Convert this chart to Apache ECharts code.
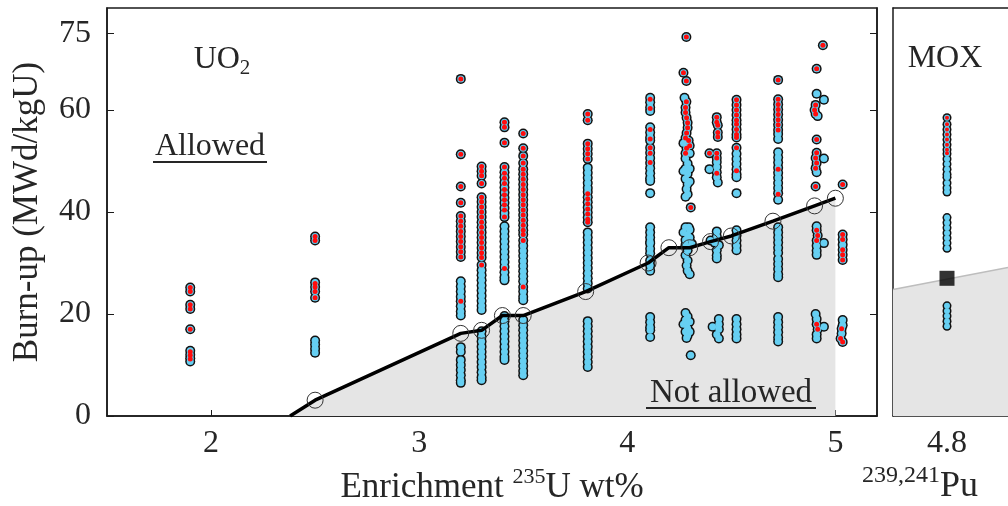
<!DOCTYPE html>
<html><head><meta charset="utf-8">
<script src="https://cdn.jsdelivr.net/npm/echarts@6/dist/echarts.min.js"></script>
<style>html,body{margin:0;padding:0;background:#fff}#c{width:1008px;height:506px}</style>
</head><body><div id="c"></div>
<script>
// ---------- data ----------
const xTicks = [2, 3, 4, 5];
const yTicks = [0, 20, 40, 60, 75];
const moxTick = [4.8];

// single-enrichment columns: burn-up values (all points) and red-marked subset
const bu19 = [25.2, 24.4, 21.8, 21.0, 17.0, 12.8, 12.0, 11.3, 10.7];
const red19 = [25.2, 24.4, 21.8, 21.0, 17.0, 12.6, 11.9, 11.2];
const bu25 = [35.2, 34.4, 26.2, 25.3, 24.4, 23.2, 14.8, 14.0, 13.2, 12.4];
const red25 = [35.2, 34.4, 26.0, 25.3, 24.4, 23.2];
const bu32 = [66.1, 51.3, 45.0, 41.8, 39.2, 38.2, 37.2, 36.2, 35.2, 34.2, 33.2, 32.2, 31.2, 26.4, 25.4, 24.4, 23.4, 22.5, 21.5, 20.5, 19.7, 13.5, 12.6, 11.0, 10.0, 9.0, 8.0, 7.0, 6.5];
const red32 = [66.1, 51.3, 45.0, 41.8, 39.2, 38.2, 37.2, 36.2, 35.2, 34.2, 33.2, 32.2, 31.2, 22.5];
const bu33 = [48.9, 48.0, 47.1, 45.6, 42.9, 42.0, 41.0, 40.0, 39.0, 38.0, 37.0, 36.0, 35.0, 34.0, 33.0, 32.0, 31.1, 29.6, 28.6, 27.6, 26.6, 25.6, 24.6, 23.6, 22.6, 21.6, 20.8, 16.6, 15.6, 14.6, 13.6, 12.6, 11.6, 10.6, 9.6, 8.6, 7.6, 7.0];
const red33 = [48.9, 48.0, 47.1, 45.6, 42.9, 42.0, 41.0, 40.0, 39.0, 38.0, 37.0, 36.0, 35.0, 34.0, 33.0, 32.0, 31.1, 29.6];
const bu34 = [57.6, 56.6, 53.6, 48.8, 47.8, 46.8, 45.8, 44.8, 43.8, 42.8, 41.8, 40.8, 39.8, 39.0, 37.2, 36.2, 35.2, 34.2, 33.2, 32.2, 31.2, 30.2, 29.2, 28.2, 27.2, 26.6, 19.6, 18.6, 17.6, 16.6, 15.6, 14.6, 13.6, 12.6, 11.6, 11.0];
const red34 = [57.6, 56.6, 53.6, 48.8, 47.6, 46.6, 45.6, 44.4, 43.4, 42.4, 41.4, 40.4, 39.0, 28.9];
const bu35 = [55.4, 52.5, 51.0, 49.6, 48.4, 47.4, 46.4, 45.4, 44.4, 43.4, 42.4, 41.4, 40.4, 39.4, 38.4, 37.4, 36.4, 35.6, 34.4, 33.4, 32.4, 31.4, 30.4, 29.4, 28.4, 27.4, 26.4, 25.3, 24.4, 23.4, 22.7, 18.8, 17.8, 16.8, 15.8, 14.8, 13.8, 12.8, 11.8, 10.8, 9.8, 8.8, 8.0];
const red35 = [55.4, 52.5, 51.0, 49.6, 48.4, 47.4, 46.4, 45.4, 44.4, 43.4, 42.4, 41.4, 40.4, 39.4, 38.4, 37.4, 36.4, 35.6, 34.4, 25.3];
const bu38 = [59.2, 58.0, 53.4, 52.4, 51.4, 50.4, 48.7, 47.7, 46.7, 45.7, 44.7, 43.9, 42.9, 41.9, 40.9, 39.9, 38.9, 38.0, 36.0, 35.0, 34.0, 33.0, 32.0, 31.0, 30.0, 29.0, 28.0, 27.0, 26.0, 25.0, 18.6, 17.6, 16.6, 15.6, 14.6, 13.6, 12.6, 11.6, 10.6, 9.6];
const red38 = [59.2, 58.0, 53.4, 52.4, 51.4, 50.4, 43.6, 42.6, 41.6, 40.6, 39.6, 38.6, 38.0];
const bu41 = [62.4, 61.5, 60.5, 59.8, 56.6, 55.6, 54.6, 54.0, 52.6, 51.6, 50.6, 49.6, 48.6, 47.6, 46.6, 46.1, 43.7, 37.0, 36.0, 35.0, 34.1, 33.8, 32.8, 31.9, 30.5, 29.5, 28.5, 19.4, 18.4, 17.4, 16.8, 15.5];
const red41 = [62.1, 60.3, 56.2, 54.3, 52.6, 51.5, 49.7];
const bu45 = [62.0, 61.0, 60.0, 59.0, 58.0, 57.2, 56.2, 55.2, 54.6, 52.6, 51.4, 50.4, 49.4, 48.4, 47.4, 46.8, 43.7, 36.4, 35.4, 34.4, 33.4, 32.5, 19.0, 18.0, 17.0, 16.0, 15.2];
const red45 = [62.0, 61.0, 60.0, 59.0, 58.0, 57.2, 56.2, 55.2, 54.6, 52.6, 48.1];
const bu47 = [65.9, 62.1, 61.1, 60.1, 59.1, 58.1, 57.1, 56.1, 55.3, 54.3, 51.7, 50.7, 49.7, 48.7, 47.7, 46.7, 45.7, 44.7, 43.7, 42.4, 37.0, 36.0, 35.0, 34.0, 33.0, 32.0, 30.8, 29.8, 28.8, 27.8, 27.2, 19.4, 18.4, 17.4, 16.4, 15.4, 14.6];
const red47 = [65.9, 62.1, 61.1, 60.1, 59.1, 58.1, 57.1, 56.1, 48.4, 43.5];

// scattered columns: [enrichment, burn-up]
const pts43 = [[4.284,74.3],[4.27,67.3],[4.284,65.7],[4.275,62.4],[4.284,61.6],[4.28,60.5],[4.28,59.5],[4.285,58.5],[4.29,57.5],[4.29,56.5],[4.285,55.5],[4.28,54.5],[4.295,54.0],[4.27,53.5],[4.3,53.0],[4.285,52.5],[4.28,51.5],[4.3,51.5],
  [4.28,50.5],[4.29,49.5],[4.28,48.5],[4.27,48.0],[4.3,48.5],[4.29,47.5],[4.28,46.5],[4.3,46.0],[4.29,45.5],[4.285,44.5],[4.29,43.5],[4.28,43.0],[4.305,40.9],
  [4.28,37.0],[4.295,37.0],[4.3,36.5],[4.27,36.0],[4.29,35.5],[4.3,35.0],[4.28,34.5],[4.31,33.8],[4.28,33.5],[4.29,32.5],[4.28,31.5],[4.29,30.5],[4.285,29.5],[4.29,28.5],[4.3,27.8],
  [4.28,20.2],[4.29,19.5],[4.28,18.8],[4.3,18.5],[4.27,18.0],[4.285,18.0],[4.29,17.2],[4.28,16.5],[4.3,16.5],[4.29,15.8],[4.285,15.3],[4.305,11.9]];
const red43 = [[4.284,74.3],[4.27,67.3],[4.284,65.7],[4.284,61.6],[4.28,60.5],[4.28,59.5],[4.285,58.5],[4.29,57.5],[4.29,56.5],[4.285,55.5],[4.28,54.5],[4.295,54.0],[4.3,53.0],[4.285,52.5],[4.28,51.5],[4.305,40.9]];
const pts44 = [[4.43,58.6],[4.43,57.6],[4.435,57.0],[4.435,55.6],[4.435,54.7],[4.395,51.5],[4.43,51.5],[4.43,50.6],[4.43,49.8],[4.43,48.8],[4.43,47.8],[4.43,46.8],[4.395,48.4],[4.435,45.8],
  [4.43,36.2],[4.43,35.2],[4.40,34.4],[4.42,34.0],[4.44,33.5],[4.43,32.5],[4.43,31.5],[4.43,30.9],
  [4.44,19.0],[4.44,18.0],[4.41,17.5],[4.44,17.0],[4.43,16.0],[4.44,15.2]];
const red44 = [[4.43,58.6],[4.43,57.6],[4.435,57.0],[4.435,55.6],[4.435,54.7],[4.395,51.5],[4.43,51.5],[4.43,50.6],[4.43,47.6]];
const pts49 = [[4.94,72.7],[4.91,68.1],[4.91,63.2],[4.945,62.0],[4.905,61.0],[4.90,60.0],[4.905,59.2],[4.915,58.8],[4.91,54.2],[4.91,51.6],[4.905,50.6],[4.945,50.5],[4.91,49.6],[4.905,48.6],[4.91,47.8],[4.905,45.0],
  [4.91,37.2],[4.91,36.4],[4.915,35.4],[4.91,34.4],[4.945,33.9],[4.91,33.4],[4.91,32.4],[4.91,31.6],
  [4.905,20.0],[4.91,19.0],[4.91,18.0],[4.915,17.0],[4.945,17.5],[4.91,16.0],[4.91,15.2]];
const red49 = [[4.94,72.7],[4.91,68.1],[4.905,61.0],[4.90,60.0],[4.905,59.2],[4.91,54.2],[4.91,51.6],[4.905,50.6],[4.91,49.6],[4.905,48.6],[4.905,45.0],[4.91,36.4],[4.915,35.4],[4.91,34.4],[4.91,18.0],[4.915,17.0]];
const pts50 = [[5.035,45.4],[5.035,35.6],[5.035,34.6],[5.035,33.6],[5.035,32.6],[5.035,31.6],[5.035,30.6],[5.035,18.8],[5.035,17.8],[5.03,17.1],[5.03,16.2],[5.025,15.2],[5.035,14.5]];
const red50 = [[5.035,45.4],[5.035,35.6],[5.035,34.6],[5.035,32.6],[5.035,31.6],[5.035,30.6],[5.03,17.1],[5.025,15.2],[5.035,14.5]];

// MOX column at 4.8 wt% Pu
const moxEnrich = 4.8;
const buMox = [58.5, 57.2, 56.2, 55.2, 54.2, 53.2, 52.2, 51.4, 50.4, 49.4, 48.4, 47.4, 46.8, 45.7, 44.7, 43.9, 38.9, 37.9, 36.9, 35.9, 34.9, 33.9, 32.9, 21.6, 20.6, 19.6, 18.6, 17.6];
const redMox = [58.5, 57.2, 56.2, 55.2, 54.2, 53.2, 52.2, 51.5];
const moxLimit = 27.0;
const moxShadeX = [4.26, 5.41];
const moxShadeY = [24.8, 29.1];

// licensing limit line (UO2)
const limitEnrich = [2.38, 2.5, 3.2, 3.3, 3.4, 3.5, 3.8, 4.1, 4.2, 4.3, 4.4, 4.5, 4.7, 4.9, 5.0];
const limitBurnup = [0, 3.1, 16.2, 16.8, 19.7, 19.7, 24.4, 30.0, 33.0, 33.0, 34.2, 35.3, 38.2, 41.2, 42.7];

// ---------- build ----------
const colX = [1.9, 2.5, 3.2, 3.3, 3.41, 3.5, 3.81, 4.11, 4.525, 4.725];
const colBu = [bu19, bu25, bu32, bu33, bu34, bu35, bu38, bu41, bu45, bu47];
const colRed = [red19, red25, red32, red33, red34, red35, red38, red41, red45, red47];
let allPts = [], redPts = [];
colX.forEach((x, i) => {
  colBu[i].forEach(y => allPts.push([x, y]));
  colRed[i].forEach(y => redPts.push([x, y]));
});
allPts = allPts.concat(pts43, pts44, pts49, pts50);
redPts = redPts.concat(red43, red44, red49, red50);
const moxAll = buMox.map(y => [moxEnrich, y]);
const moxRed = redMox.map(y => [moxEnrich, y]);
const limitPairs = limitEnrich.map((x, i) => [x, limitBurnup[i]]);
const limitData = limitPairs.map((p, i) => i === 0 ? {value: p, symbol: 'none'} : p);
const moxShade = moxShadeX.map((x, i) => [x, moxShadeY[i]]);

const FONT = 'Liberation Serif';
const TXT = '#262626';
const AX = '#1a1a1a';
const BLUE = '#66cff2';
const RED = '#ff0d0d';
const noAxis = {show: false};

const chart = echarts.init(document.getElementById('c'), null, {renderer: 'canvas'});
chart.setOption({
  animation: false,
  backgroundColor: '#fff',
  grid: [
    {left: 107, top: 8, width: 770, height: 408, show: true, borderColor: AX, borderWidth: 1.5, backgroundColor: 'transparent', outerBoundsMode: 'none', containLabel: false},
    {left: 893, top: 8, width: 115, height: 408, show: false, outerBoundsMode: 'none', containLabel: false}
  ],
  xAxis: [
    {gridIndex: 0, type: 'value', min: 1.5, max: 5.2,
     axisLine: {show: true, onZero: false, lineStyle: {color: AX, width: 1.5}},
     axisTick: {show: true, inside: true, length: 6, customValues: xTicks, lineStyle: {color: AX, width: 1}},
     axisLabel: {customValues: xTicks, fontFamily: FONT, fontSize: 32, color: TXT, margin: 12},
     splitLine: {show: false},
     name: '{a|Enrichment }{s|235}{a|U wt%}', nameLocation: 'middle', nameGap: 50,
     nameTextStyle: {rich: {a: {fontFamily: FONT, fontSize: 35, color: TXT}, s: {fontFamily: FONT, fontSize: 22, color: TXT, padding: [0, 0, 22, 0]}}}},
    {gridIndex: 1, type: 'value', min: moxShadeX[0], max: moxShadeX[1],
     axisLine: {show: true, onZero: false, lineStyle: {color: AX, width: 1.5}},
     axisTick: {show: false},
     axisLabel: {customValues: moxTick, fontFamily: FONT, fontSize: 32, color: TXT, margin: 12, formatter: v => v.toFixed(1)},
     splitLine: {show: false}},
    {gridIndex: 1, type: 'value', position: 'top', min: moxShadeX[0], max: moxShadeX[1],
     axisLine: {show: true, onZero: false, lineStyle: {color: AX, width: 1.5}},
     axisTick: noAxis, axisLabel: noAxis, splitLine: noAxis}
  ],
  yAxis: [
    {gridIndex: 0, type: 'value', min: 0, max: 80,
     axisLine: {show: true, onZero: false, lineStyle: {color: AX, width: 1.5}},
     axisTick: {show: true, inside: true, length: 7, customValues: yTicks, lineStyle: {color: AX, width: 1}},
     axisLabel: {customValues: yTicks, fontFamily: FONT, fontSize: 32, color: TXT, margin: 16},
     splitLine: {show: false},
     name: 'Burn-up (MWd/kgU)', nameLocation: 'middle', nameGap: 62,
     nameTextStyle: {fontFamily: FONT, fontSize: 35, color: TXT}},
    {gridIndex: 0, type: 'value', min: 0, max: 80, position: 'right',
     axisLine: {show: true, onZero: false, lineStyle: {color: AX, width: 1.5}},
     axisTick: {show: true, inside: true, length: 7, customValues: yTicks, lineStyle: {color: AX, width: 1}},
     axisLabel: noAxis, splitLine: noAxis},
    {gridIndex: 1, type: 'value', min: 0, max: 80,
     axisLine: {show: true, onZero: false, lineStyle: {color: AX, width: 1.5}},
     axisTick: noAxis, axisLabel: noAxis, splitLine: noAxis}
  ],
  series: [
    {type: 'line', xAxisIndex: 0, yAxisIndex: 0, data: limitPairs, symbol: 'none',
     lineStyle: {width: 0}, areaStyle: {color: '#e5e5e5', opacity: 1}, z: 1, silent: true},
    {type: 'line', xAxisIndex: 1, yAxisIndex: 2, data: moxShade, symbol: 'none',
     lineStyle: {width: 1.5, color: '#bdbdbd'}, areaStyle: {color: '#e5e5e5', opacity: 1}, z: 1, silent: true},
    {type: 'scatter', xAxisIndex: 0, yAxisIndex: 0, data: allPts, symbolSize: 10, itemStyle: {color: '#111', opacity: 1}, z: 2},
    {type: 'scatter', xAxisIndex: 0, yAxisIndex: 0, data: allPts, symbolSize: 7, itemStyle: {color: BLUE, opacity: 1}, z: 3},
    {type: 'scatter', xAxisIndex: 0, yAxisIndex: 0, data: redPts, symbolSize: 5, itemStyle: {color: RED, opacity: 1}, z: 4},
    {type: 'scatter', xAxisIndex: 1, yAxisIndex: 2, data: moxAll, symbolSize: 9, itemStyle: {color: '#111', opacity: 1}, z: 2},
    {type: 'scatter', xAxisIndex: 1, yAxisIndex: 2, data: moxAll, symbolSize: 6, itemStyle: {color: BLUE, opacity: 1}, z: 3},
    {type: 'scatter', xAxisIndex: 1, yAxisIndex: 2, data: moxRed, symbolSize: 4, itemStyle: {color: RED, opacity: 1}, z: 4},
    {type: 'line', xAxisIndex: 0, yAxisIndex: 0, data: limitData, symbol: 'circle', symbolSize: 16, showAllSymbol: true,
     lineStyle: {color: '#000', width: 3.5}, itemStyle: {color: 'rgba(0,0,0,0)', borderColor: '#333', borderWidth: 1},
     z: 6},
    {type: 'scatter', xAxisIndex: 1, yAxisIndex: 2, data: [[moxEnrich, moxLimit]], symbol: 'rect', symbolSize: 15,
     itemStyle: {color: '#000'}, z: 6}
  ],
  graphic: [
    {type: 'text', x: 222, y: 60, z: 10, style: {text: '{a|UO}{b|2}', textAlign: 'center', textVerticalAlign: 'middle',
      rich: {a: {fontFamily: FONT, fontSize: 32, fill: TXT, color: TXT}, b: {fontFamily: FONT, fontSize: 21, fill: TXT, color: TXT, padding: [16, 0, 0, 0]}}}},
    {type: 'text', x: 210, y: 147, z: 10, style: {text: 'Allowed', font: '32px "Liberation Serif"', fill: TXT, textAlign: 'center', textVerticalAlign: 'middle'}},
    {type: 'line', z: 10, shape: {x1: 153, y1: 162, x2: 267, y2: 162}, style: {stroke: TXT, lineWidth: 2}},
    {type: 'text', x: 731, y: 393, z: 10, style: {text: 'Not allowed', font: '33px "Liberation Serif"', fill: TXT, textAlign: 'center', textVerticalAlign: 'middle'}},
    {type: 'line', z: 10, shape: {x1: 646, y1: 408, x2: 816, y2: 408}, style: {stroke: TXT, lineWidth: 2}},
    {type: 'text', x: 945, y: 59, z: 10, style: {text: 'MOX', font: '32px "Liberation Serif"', fill: TXT, textAlign: 'center', textVerticalAlign: 'middle'}},
    {type: 'text', x: 862, y: 487, z: 10, style: {text: '{s|239,241}{a|Pu}', textAlign: 'left', textVerticalAlign: 'middle',
      rich: {a: {fontFamily: FONT, fontSize: 36, fill: TXT, color: TXT}, s: {fontFamily: FONT, fontSize: 24, fill: TXT, color: TXT, padding: [0, 0, 22, 0]}}}}
  ]
});
</script></body></html>
